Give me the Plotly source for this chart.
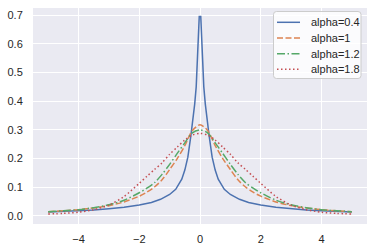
import plotly.graph_objects as go

# alpha = 0.4 (sharp peak)
x_a04 = [-5, -4.5, -4, -3.5, -3, -2.5, -2, -1.6, -1.3, -1.0, -0.8, -0.6, -0.5, -0.4, -0.3,
         -0.225, -0.175, -0.125, -0.075, -0.025, 0.025, 0.075, 0.125, 0.175, 0.225,
         0.3, 0.4, 0.5, 0.6, 0.8, 1.0, 1.3, 1.6, 2, 2.5, 3, 3.5, 4, 4.5, 5]
y_a04 = [0.014, 0.016, 0.018, 0.021, 0.025, 0.030, 0.038, 0.047, 0.058, 0.075, 0.093, 0.128,
         0.160, 0.205, 0.280, 0.340, 0.390, 0.450, 0.560, 0.695, 0.695, 0.560, 0.450, 0.390,
         0.340, 0.280, 0.205, 0.160, 0.128, 0.093, 0.075, 0.058, 0.047, 0.038, 0.030, 0.025,
         0.021, 0.018, 0.016, 0.014]

# alpha = 1, 1.2, 1.8
x_smooth = [-5, -4.5, -4, -3.5, -3, -2.5, -2, -1.75, -1.5, -1.25, -1, -0.75, -0.5, -0.25, 0,
            0.25, 0.5, 0.75, 1, 1.25, 1.5, 1.75, 2, 2.5, 3, 3.5, 4, 4.5, 5]
y_a10 = [0.015, 0.018, 0.022, 0.028, 0.036, 0.049, 0.069, 0.083, 0.101, 0.126, 0.162, 0.200,
         0.245, 0.298, 0.318, 0.298, 0.245, 0.200, 0.162, 0.126, 0.101, 0.083, 0.069, 0.049,
         0.036, 0.028, 0.022, 0.018, 0.015]
y_a12 = [0.015, 0.018, 0.022, 0.029, 0.039, 0.055, 0.081, 0.097, 0.116, 0.145, 0.180, 0.218,
         0.255, 0.290, 0.300, 0.290, 0.255, 0.218, 0.180, 0.145, 0.116, 0.097, 0.081, 0.055,
         0.039, 0.029, 0.022, 0.018, 0.015]
y_a18 = [0.007, 0.009, 0.013, 0.022, 0.038, 0.068, 0.114, 0.138, 0.162, 0.185, 0.215, 0.240,
         0.265, 0.282, 0.288, 0.282, 0.265, 0.240, 0.215, 0.185, 0.162, 0.138, 0.114, 0.068,
         0.038, 0.022, 0.013, 0.009, 0.007]

labels = ["alpha=0.4", "alpha=1", "alpha=1.2", "alpha=1.8"]
x_ticks = [-4, -2, 0, 2, 4]
x_ticktext = ["\u22124", "\u22122", "0", "2", "4"]
y_ticks = [0.0, 0.1, 0.2, 0.3, 0.4, 0.5, 0.6, 0.7]

colors = ["#4C72B0", "#DD8452", "#55A868", "#C44E52"]
dashes = ["solid", "6px,2.5px", "8px,2.5px,1.5px,2.5px", "1.5px,2.5px"]

W, H = 374, 251
ML, MR, MT, MB = 33, 7, 8, 27
PW, PH = W - ML - MR, H - MT - MB


def px2paper_x(px):
    return (px - ML) / PW


def px2paper_y(py):
    return (H - MB - py) / PH


fig = go.Figure()
fig.add_trace(go.Scatter(x=x_a04, y=y_a04, mode="lines", name=labels[0], showlegend=False,
                         line=dict(color=colors[0], width=1.5, dash=dashes[0])))
for lab, ys, c, d in zip(labels[1:], [y_a10, y_a12, y_a18], colors[1:], dashes[1:]):
    fig.add_trace(go.Scatter(x=x_smooth, y=ys, mode="lines", name=lab, showlegend=False,
                             line=dict(color=c, width=1.5, dash=d, shape="spline", smoothing=0.8)))

# legend drawn by hand (matplotlib-like compact layout)
bx0, bx1, by0, by1, r = 273.5, 361, 11.5, 78.5, 3
path = (f"M {px2paper_x(bx0 + r)} {px2paper_y(by0)} L {px2paper_x(bx1 - r)} {px2paper_y(by0)} "
        f"Q {px2paper_x(bx1)} {px2paper_y(by0)} {px2paper_x(bx1)} {px2paper_y(by0 + r)} "
        f"L {px2paper_x(bx1)} {px2paper_y(by1 - r)} "
        f"Q {px2paper_x(bx1)} {px2paper_y(by1)} {px2paper_x(bx1 - r)} {px2paper_y(by1)} "
        f"L {px2paper_x(bx0 + r)} {px2paper_y(by1)} "
        f"Q {px2paper_x(bx0)} {px2paper_y(by1)} {px2paper_x(bx0)} {px2paper_y(by1 - r)} "
        f"L {px2paper_x(bx0)} {px2paper_y(by0 + r)} "
        f"Q {px2paper_x(bx0)} {px2paper_y(by0)} {px2paper_x(bx0 + r)} {px2paper_y(by0)} Z")
fig.add_shape(type="path", path=path, xref="paper", yref="paper",
              fillcolor="rgba(255,255,255,0.8)", line=dict(color="#CCCCCC", width=1), layer="above")
row_y = [22.3, 37.9, 53.7, 69.2]
for lab, c, d, ry in zip(labels, colors, dashes, row_y):
    fig.add_shape(type="line", xref="paper", yref="paper",
                  x0=px2paper_x(277), x1=px2paper_x(300), y0=px2paper_y(ry), y1=px2paper_y(ry),
                  line=dict(color=c, width=1.5, dash=d), layer="above")
    fig.add_annotation(text=lab, xref="paper", yref="paper", x=px2paper_x(308.5), y=px2paper_y(ry),
                       xanchor="left", yanchor="middle", showarrow=False,
                       font=dict(size=11, color="#262626"))

fig.update_layout(
    width=W, height=H,
    margin=dict(l=ML, r=MR, t=MT, b=MB, autoexpand=False),
    paper_bgcolor="white", plot_bgcolor="#EAEAF2",
    font=dict(family="Liberation Sans, Arial, sans-serif", size=11, color="#262626"),
    showlegend=False,
)
fig.update_xaxes(range=[-5.5, 5.5], tickvals=x_ticks, ticktext=x_ticktext,
                 showgrid=True, gridcolor="white", gridwidth=1, zeroline=False, automargin=False,
                 showline=False, ticks="outside", ticklen=5, tickcolor="rgba(0,0,0,0)")
fig.update_yaxes(range=[-0.028, 0.725], tickvals=y_ticks, tickformat=".1f",
                 showgrid=True, gridcolor="white", gridwidth=1, zeroline=False, automargin=False,
                 showline=False, ticks="outside", ticklen=7, tickcolor="rgba(0,0,0,0)")

fig.write_html("out.html", config={"displayModeBar": False},
               post_script="document.body.style.margin='0';document.body.style.overflow='hidden';")
